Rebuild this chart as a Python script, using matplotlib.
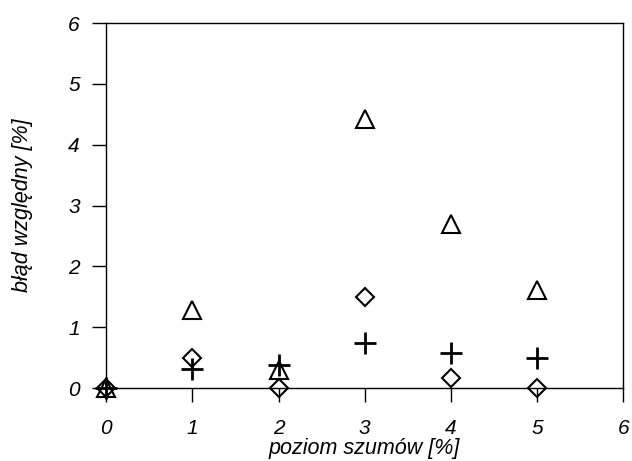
import matplotlib
matplotlib.use("Agg")
import matplotlib.pyplot as plt

x = [0, 1, 2, 3, 4, 5]
triangles = [0.0, 1.28, 0.3, 4.42, 2.7, 1.62]
diamonds = [0.0, 0.5, 0.0, 1.5, 0.17, 0.0]
pluses = [0.0, 0.32, 0.38, 0.74, 0.57, 0.49]

plt.rcParams['font.family'] = ['Liberation Sans', 'DejaVu Sans']

fig = plt.figure(figsize=(6.32, 4.61), dpi=100)
ax = fig.add_axes([0.168, 0.158, 0.818, 0.792])

ax.plot(x, triangles, linestyle='none', marker='^', markersize=13.5, markerfacecolor='none',
        markeredgecolor='black', markeredgewidth=1.5, clip_on=False, zorder=3)
ax.plot(x, diamonds, linestyle='none', marker='D', markersize=9.5, markerfacecolor='none',
        markeredgecolor='black', markeredgewidth=1.5, clip_on=False, zorder=3)
ax.plot(x, pluses, linestyle='none', marker='+', markersize=16, markerfacecolor='none',
        markeredgecolor='black', markeredgewidth=2, clip_on=False, zorder=3)

ax.set_xlim(0, 6)
ax.set_ylim(0, 6)
ax.set_xticks(range(7))
ax.set_yticks(range(7))
ax.tick_params(direction='out', length=10, width=1, colors='black', labelsize=15)
ax.tick_params(axis='y', pad=9)
ax.tick_params(axis='x', pad=12)
for lbl in ax.get_xticklabels() + ax.get_yticklabels():
    lbl.set_fontstyle('italic')
for s in ax.spines.values():
    s.set_linewidth(1)

ax.set_xlabel('poziom szumów [%]', fontsize=15.5, fontstyle='italic', labelpad=0)
ax.set_ylabel('błąd względny [%]', fontsize=15.5, fontstyle='italic', labelpad=25)

fig.savefig('out.png', dpi=100)
